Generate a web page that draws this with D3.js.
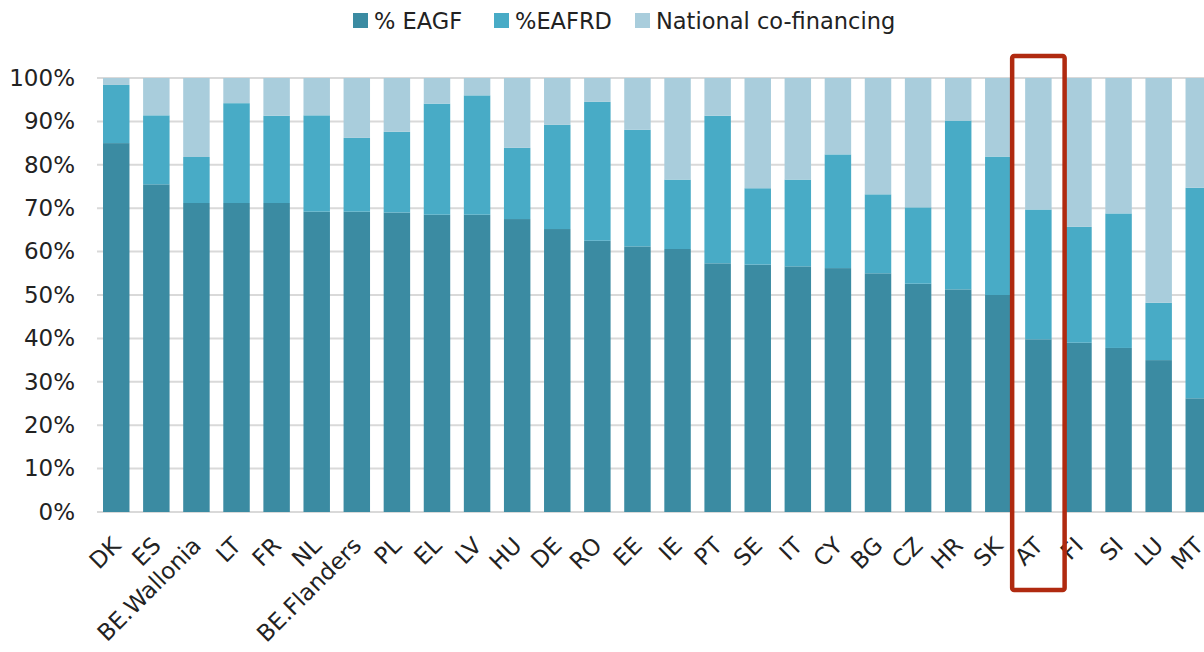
<!DOCTYPE html>
<html>
<head>
<meta charset="utf-8">
<script src="https://cdn.jsdelivr.net/npm/d3@7"></script>
<style>
  body { margin: 0; background: #fff; }
  text { font-family: "DejaVu Sans", Verdana, sans-serif; fill: #222; }
</style>
</head>
<body>
<div id="chart"></div>
<script>
// categories and shares (percent of total funding)
var countries = ["DK", "ES", "BE.Wallonia", "LT", "FR", "NL", "BE.Flanders", "PL", "EL", "LV",
  "HU", "DE", "RO", "EE", "IE", "PT", "SE", "IT", "CY", "BG", "CZ", "HR", "SK", "AT", "FI", "SI", "LU", "MT"];
var eagf = [85.0, 75.5, 71.2, 71.2, 71.2, 69.2, 69.2, 69.0, 68.5, 68.5,
  67.5, 65.2, 62.5, 61.2, 60.6, 57.3, 57.0, 56.6, 56.2, 55.0, 52.6, 51.3, 50.0, 39.8, 39.0, 37.8, 35.0, 26.2];
var eafrd = [13.4, 15.9, 10.6, 23.0, 20.1, 22.2, 17.0, 18.6, 25.6, 27.5,
  16.4, 24.0, 32.0, 26.9, 16.0, 34.0, 17.6, 20.0, 26.2, 18.2, 17.6, 38.9, 31.9, 29.9, 26.7, 31.0, 13.2, 48.5];
var keys = ["% EAGF", "%EAFRD", "National co-financing"];
var yTicks = [0, 10, 20, 30, 40, 50, 60, 70, 80, 90, 100];
var highlight = "AT";

var svgWidth = 1204;
var svgHeight = 652;
var margin = { top: 78, left: 97, bottom: 140 };
var colors = ["#3b8ba2", "#48abc6", "#a9cddc"];

var svg = d3.select("#chart")
  .append("svg")
  .attr("width", svgWidth)
  .attr("height", svgHeight);

// build table for the stack
var table = countries.map(function(c, i) {
  var row = { country: c };
  row[keys[0]] = eagf[i];
  row[keys[1]] = eafrd[i];
  row[keys[2]] = 100 - eagf[i] - eafrd[i];
  return row;
});
var series = d3.stack().keys(keys)(table);

// x runs past the right edge, like the cropped original
var x = d3.scaleBand()
  .domain(countries)
  .range([margin.left, 1218])
  .paddingInner(0.34)
  .paddingOuter(0.15);

var y = d3.scaleLinear()
  .domain([0, 100])
  .range([svgHeight - margin.bottom, margin.top]);

// grid
svg.append("g")
  .selectAll("line")
  .data(yTicks)
  .enter()
  .append("line")
  .attr("x1", margin.left)
  .attr("x2", svgWidth)
  .attr("y1", d => y(d))
  .attr("y2", d => y(d))
  .attr("stroke", "#d9d9d9")
  .attr("stroke-width", 2);

// y axis labels
var leftAxis = d3.axisLeft(y).tickValues(yTicks).tickFormat(d => d + "%").tickSize(0).tickPadding(22);
svg.append("g")
  .attr("transform", `translate(${margin.left}, 0)`)
  .call(leftAxis)
  .call(g => g.select(".domain").remove())
  .selectAll("text")
  .attr("font-size", "23px")
  .attr("font-family", "DejaVu Sans, Verdana, sans-serif")
  .attr("fill", "#222");

// bars
svg.append("g")
  .selectAll("g")
  .data(series)
  .enter()
  .append("g")
  .attr("fill", (d, i) => colors[i])
  .selectAll("rect")
  .data(d => d)
  .enter()
  .append("rect")
  .attr("x", d => x(d.data.country))
  .attr("y", d => y(d[1]))
  .attr("width", x.bandwidth())
  .attr("height", d => y(d[0]) - y(d[1]));

// x labels
var bottomAxis = d3.axisBottom(x).tickSize(0).tickPadding(0);
svg.append("g")
  .attr("transform", `translate(0, ${y(0)})`)
  .call(bottomAxis)
  .call(g => g.select(".domain").remove())
  .selectAll("text")
  .attr("font-size", "23px")
  .attr("font-family", "DejaVu Sans, Verdana, sans-serif")
  .attr("fill", "#111")
  .attr("text-anchor", "end")
  .attr("dy", "0")
  .attr("transform", "translate(6, 35) rotate(-45)");

// highlight box round AT
svg.append("rect")
  .attr("x", x(highlight) - 13)
  .attr("y", 56)
  .attr("width", x.bandwidth() + 26)
  .attr("height", 534)
  .attr("rx", 2)
  .attr("fill", "none")
  .attr("stroke", "#b02a10")
  .attr("stroke-width", 4.5);

// legend
var legendX = [353, 494, 635];
var legend = svg.append("g")
  .selectAll("g")
  .data(keys)
  .enter()
  .append("g")
  .attr("transform", (d, i) => `translate(${legendX[i]}, 13)`);

legend.append("rect")
  .attr("width", 15)
  .attr("height", 15)
  .attr("fill", (d, i) => colors[i]);

legend.append("text")
  .attr("x", 21)
  .attr("y", 16)
  .attr("font-size", "22.5px")
  .text(d => d);
</script>
</body>
</html>
